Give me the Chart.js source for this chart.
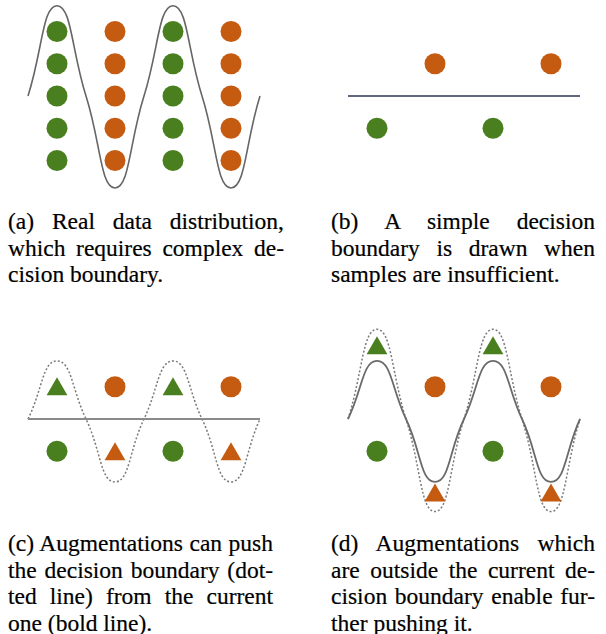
<!DOCTYPE html>
<html>
<head>
<meta charset="utf-8">
<script src="https://cdn.jsdelivr.net/npm/chart.js@4.4.0/dist/chart.umd.min.js"></script>
<style>
  body { margin: 0; background: #fff; width: 606px; height: 634px; position: relative; overflow: hidden; }
  canvas { position: absolute; }
  .cap { position: absolute; font-family: "Liberation Serif", "Times New Roman", Times, serif; font-size: 23.5px; line-height: 26.7px; color: #000; -webkit-text-stroke: 0.2px #000; }
  .cap div { text-align: justify; text-align-last: justify; }
  .cap div:last-child { text-align-last: left; }
</style>
</head>
<body>
<canvas id="panelA" width="290" height="200" style="left:-1px;top:-4px"></canvas>
<canvas id="panelB" width="290" height="200" style="left:319px;top:-4px"></canvas>
<canvas id="panelC" width="290" height="200" style="left:-1px;top:319px"></canvas>
<canvas id="panelD" width="290" height="200" style="left:319px;top:319px"></canvas>

<div class="cap" id="capA" style="left:8px;top:208px;width:276px"></div>
<div class="cap" id="capB" style="left:331px;top:208px;width:264px"></div>
<div class="cap" id="capC" style="left:8px;top:530px;width:265px"></div>
<div class="cap" id="capD" style="left:331px;top:530px;width:264px"></div>

<script>
// ---- data (x = column, y = rows around the boundary) ----
const GREEN  = '#4a7f1f';
const ORANGE = '#c55a11';

// (a) real data: 5 rows in each column
const aGreenX  = [1, 1, 1, 1, 1, 3, 3, 3, 3, 3];
const aGreenY  = [2, 1, 0, -1, -2, 2, 1, 0, -1, -2];
const aOrangeX = [2, 2, 2, 2, 2, 4, 4, 4, 4, 4];
const aOrangeY = [2, 1, 0, -1, -2, 2, 1, 0, -1, -2];
const curveX   = [0.5, 1, 1.5, 2, 2.5, 3, 3.5, 4, 4.5];
const aCurveY  = [0, 2.8, 0, -2.85, 0, 2.8, 0, -2.85, 0];

// (b) few samples + straight boundary
const bGreenX  = [1, 3];
const bGreenY  = [-1, -1];
const bOrangeX = [2, 4];
const bOrangeY = [1, 1];
const lineX    = [0.5, 4.5];
const lineY    = [0, 0];

// (c) augmentations (triangles) push the boundary
const cGreenX     = [1, 3];
const cGreenY     = [-1, -1];
const cOrangeX    = [2, 4];
const cOrangeY    = [1, 1];
const cGreenTriY  = [0.92, 0.92];
const cOrangeTriY = [-1.09, -1.09];
const cDottedY    = [0, 1.8, 0, -1.95, 0, 1.8, 0, -1.95, 0];

// (d) augmentations outside the current boundary
const dGreenTriY  = [2.19, 2.19];
const dOrangeTriY = [-2.37, -2.37];
const dSolidY     = [0, 1.8, 0, -1.95, 0, 1.8, 0, -1.95, 0];
const dDottedY    = [0, 2.78, 0, -2.87, 0, 2.78, 0, -2.87, 0];

const captionA = ['(a) Real data distribution,', 'which requires complex de-', 'cision boundary.'];
const captionB = ['(b) A simple decision', 'boundary is drawn when', 'samples are insufficient.'];
const captionC = ['(c) Augmentations can push', 'the decision boundary (dot-', 'ted line) from the current', 'one (bold line).'];
const captionD = ['(d) Augmentations which', 'are outside the current de-', 'cision boundary enable fur-', 'ther pushing it.'];

// ---- helpers ----
const zip = (xs, ys) => xs.map((x, i) => ({ x, y: ys[i] }));

const dots = (xs, ys, color, style = 'circle') => ({
  data: zip(xs, ys),
  showLine: false,
  pointStyle: style,
  pointRadius: style === 'triangle' ? 12 : 10.5,
  pointHoverRadius: style === 'triangle' ? 12 : 10.5,
  backgroundColor: color,
  borderWidth: 0,
  clip: false
});

const curve = (xs, ys, color, width, dash = []) => ({
  data: zip(xs, ys),
  showLine: true,
  pointRadius: 0,
  borderColor: color,
  borderWidth: width,
  borderDash: dash,
  tension: 0.5,
  fill: false,
  clip: false
});

function makePanel(id, datasets) {
  const canvas = document.getElementById(id);
  return new Chart(canvas, {
    type: 'scatter',
    data: { datasets },
    options: {
      responsive: false,
      animation: false,
      events: [],
      layout: { padding: 0, autoPadding: false }, // keep full canvas = chart area
      plugins: { legend: { display: false }, tooltip: { enabled: false } },
      scales: {
        x: { type: 'linear', min: 0, max: 5, display: false },
        y: { type: 'linear', min: -3.1, max: 3.1, display: false }
      }
    }
  });
}

function renderCaption(id, lines) {
  const el = document.getElementById(id);
  el.innerHTML = '';
  for (const t of lines) {
    const d = document.createElement('div');
    d.textContent = t;
    el.appendChild(d);
  }
}

// ---- panels ----
makePanel('panelA', [
  dots(aGreenX, aGreenY, GREEN),
  dots(aOrangeX, aOrangeY, ORANGE),
  curve(curveX, aCurveY, '#666666', 1.6)
]);

makePanel('panelB', [
  dots(bGreenX, bGreenY, GREEN),
  dots(bOrangeX, bOrangeY, ORANGE),
  curve(lineX, lineY, '#5e6a7b', 2)
]);

makePanel('panelC', [
  dots(cGreenX, cGreenY, GREEN),
  dots(cOrangeX, cOrangeY, ORANGE),
  dots(cGreenX, cGreenTriY, GREEN, 'triangle'),
  dots(cOrangeX, cOrangeTriY, ORANGE, 'triangle'),
  curve(lineX, lineY, '#8a8a8a', 2),
  curve(curveX, cDottedY, '#7a7a7a', 1.5, [2, 2])
]);

makePanel('panelD', [
  dots(cGreenX, cGreenY, GREEN),
  dots(cOrangeX, cOrangeY, ORANGE),
  dots(cGreenX, dGreenTriY, GREEN, 'triangle'),
  dots(cOrangeX, dOrangeTriY, ORANGE, 'triangle'),
  curve(curveX, dSolidY, '#6a6a6a', 1.8),
  curve(curveX, dDottedY, '#7a7a7a', 1.5, [2, 2])
]);

renderCaption('capA', captionA);
renderCaption('capB', captionB);
renderCaption('capC', captionC);
renderCaption('capD', captionD);
</script>
</body>
</html>
